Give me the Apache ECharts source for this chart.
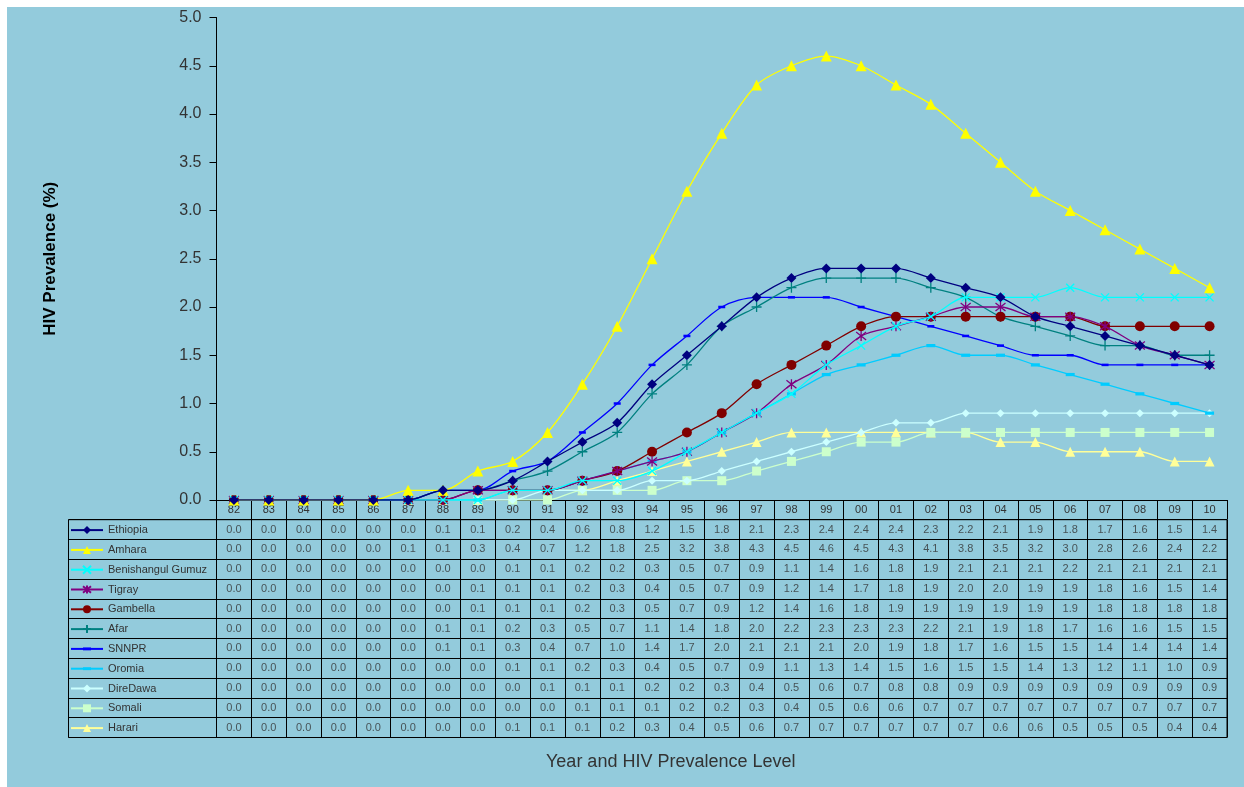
<!DOCTYPE html>
<html>
<head>
<meta charset="utf-8">
<title>HIV Prevalence by Region</title>
<script src="https://cdn.jsdelivr.net/npm/echarts@6/dist/echarts.min.js"></script>
<style>
  html, body { margin: 0; padding: 0; background: #ffffff; }
  #bg { position: absolute; left: 7px; top: 7px; width: 1237px; height: 780px; background: #93CBDC; }
  #chart { position: absolute; left: 0; top: 0; width: 1244px; height: 787px; }
</style>
</head>
<body>
<div id="bg"></div>
<div id="chart"></div>
<script>
// Years (1982 - 2010) shown as two-digit labels
const years = ['82','83','84','85','86','87','88','89','90','91','92','93','94','95',
  '96','97','98','99','00','01','02','03','04','05','06','07','08','09','10'];

const regions = ['Ethiopia','Amhara','Benishangul Gumuz','Tigray','Gambella','Afar',
  'SNNPR','Oromia','DireDawa','Somali','Harari'];

// HIV prevalence (%) per region and year
const ethiopia   = [0.0,0.0,0.0,0.0,0.0,0.0,0.1,0.1,0.2,0.4,0.6,0.8,1.2,1.5,1.8,2.1,2.3,2.4,2.4,2.4,2.3,2.2,2.1,1.9,1.8,1.7,1.6,1.5,1.4];
const amhara     = [0.0,0.0,0.0,0.0,0.0,0.1,0.1,0.3,0.4,0.7,1.2,1.8,2.5,3.2,3.8,4.3,4.5,4.6,4.5,4.3,4.1,3.8,3.5,3.2,3.0,2.8,2.6,2.4,2.2];
const benishangul= [0.0,0.0,0.0,0.0,0.0,0.0,0.0,0.0,0.1,0.1,0.2,0.2,0.3,0.5,0.7,0.9,1.1,1.4,1.6,1.8,1.9,2.1,2.1,2.1,2.2,2.1,2.1,2.1,2.1];
const tigray     = [0.0,0.0,0.0,0.0,0.0,0.0,0.0,0.1,0.1,0.1,0.2,0.3,0.4,0.5,0.7,0.9,1.2,1.4,1.7,1.8,1.9,2.0,2.0,1.9,1.9,1.8,1.6,1.5,1.4];
const gambella   = [0.0,0.0,0.0,0.0,0.0,0.0,0.0,0.1,0.1,0.1,0.2,0.3,0.5,0.7,0.9,1.2,1.4,1.6,1.8,1.9,1.9,1.9,1.9,1.9,1.9,1.8,1.8,1.8,1.8];
const afar       = [0.0,0.0,0.0,0.0,0.0,0.0,0.1,0.1,0.2,0.3,0.5,0.7,1.1,1.4,1.8,2.0,2.2,2.3,2.3,2.3,2.2,2.1,1.9,1.8,1.7,1.6,1.6,1.5,1.5];
const snnpr      = [0.0,0.0,0.0,0.0,0.0,0.0,0.1,0.1,0.3,0.4,0.7,1.0,1.4,1.7,2.0,2.1,2.1,2.1,2.0,1.9,1.8,1.7,1.6,1.5,1.5,1.4,1.4,1.4,1.4];
const oromia     = [0.0,0.0,0.0,0.0,0.0,0.0,0.0,0.0,0.1,0.1,0.2,0.3,0.4,0.5,0.7,0.9,1.1,1.3,1.4,1.5,1.6,1.5,1.5,1.4,1.3,1.2,1.1,1.0,0.9];
const direDawa   = [0.0,0.0,0.0,0.0,0.0,0.0,0.0,0.0,0.0,0.1,0.1,0.1,0.2,0.2,0.3,0.4,0.5,0.6,0.7,0.8,0.8,0.9,0.9,0.9,0.9,0.9,0.9,0.9,0.9];
const somali     = [0.0,0.0,0.0,0.0,0.0,0.0,0.0,0.0,0.0,0.0,0.1,0.1,0.1,0.2,0.2,0.3,0.4,0.5,0.6,0.6,0.7,0.7,0.7,0.7,0.7,0.7,0.7,0.7,0.7];
const harari     = [0.0,0.0,0.0,0.0,0.0,0.0,0.0,0.0,0.1,0.1,0.1,0.2,0.3,0.4,0.5,0.6,0.7,0.7,0.7,0.7,0.7,0.7,0.6,0.6,0.5,0.5,0.5,0.4,0.4];

const yTicks = { min: 0, max: 5, interval: 0.5 };

const seriesValues = [ethiopia, amhara, benishangul, tigray, gambella, afar, snnpr, oromia, direDawa, somali, harari];

// Marker shapes (Excel-style)
const X_PATH = 'path://M0 0L10 10M10 0L0 10';
const STAR_PATH = 'path://M1 1L9 9M9 1L1 9M5 0L5 10';
const PLUS_PATH = 'path://M5 0L5 10M0 5L10 5';
// short horizontal dash inside a square bounding box
const DASH_PATH = 'path://M0 0M0 3.2L10 3.2L10 6.8L0 6.8ZM10 10';

const styles = [
  { color: '#000080', symbol: 'diamond',  size: 10 },
  { color: '#FFFF00', symbol: 'triangle', size: 11 },
  { color: '#00FFFF', symbol: X_PATH,     size: 8, stroke: true },
  { color: '#800080', symbol: STAR_PATH,  size: 10, stroke: true },
  { color: '#800000', symbol: 'circle',   size: 10 },
  { color: '#008080', symbol: PLUS_PATH,  size: 10, stroke: true },
  { color: '#0000FF', symbol: DASH_PATH,  size: 7 },
  { color: '#00CCFF', symbol: DASH_PATH,  size: 9 },
  { color: '#CCFFFF', symbol: 'diamond',  size: 8 },
  { color: '#CCFFCC', symbol: 'rect',     size: 9 },
  { color: '#FFFF99', symbol: 'triangle', size: 10 }
];

const lineSeries = regions.map((name, i) => ({
  name: name,
  type: 'line',
  xAxisIndex: 0,
  yAxisIndex: 0,
  data: seriesValues[i],
  smooth: 0.3,
  symbol: styles[i].symbol,
  symbolSize: styles[i].size,
  showAllSymbol: true,
  lineStyle: { color: styles[i].color, width: 1.3 },
  itemStyle: {
    color: styles[i].color,
    borderColor: styles[i].color,
    borderWidth: styles[i].stroke ? 1.3 : 0
  },
  emphasis: { disabled: true },
  z: 3 + (regions.length - i) * 0.01
}));

// Data table cells: [yearIndex, regionIndex, value]
const tableCells = [];
regions.forEach((name, r) => {
  seriesValues[r].forEach((v, c) => tableCells.push([c, r, v]));
});

const tableSeries = {
  name: 'table',
  type: 'scatter',
  xAxisIndex: 1,
  yAxisIndex: 1,
  symbolSize: 0,
  silent: true,
  data: tableCells,
  label: {
    show: true,
    position: 'inside',
    fontFamily: 'Liberation Sans, Arial, sans-serif',
    fontSize: 11,
    color: '#333333',
    formatter: p => p.value[2].toFixed(1)
  }
};

const GRID_LEFT = 216.5, GRID_RIGHT = 17;
const TABLE_TOP = 519.7, ROW_H = 19.8;
const LEGEND_ITEM_H = 10;     // icon height
const LEGEND_BOX_H = 11;      // laid-out height of one legend entry

const chart = echarts.init(document.getElementById('chart'), null, { renderer: 'canvas' });
chart.setOption({
  backgroundColor: 'transparent',
  animation: false,
  textStyle: { fontFamily: 'Liberation Sans, Arial, sans-serif' },
  title: {
    text: 'Year and HIV Prevalence Level',
    left: 541,
    top: 748,
    textStyle: { fontSize: 18, fontWeight: 'normal', color: '#333333' }
  },
  legend: {
    orient: 'vertical',
    left: 70,
    top: TABLE_TOP + (ROW_H - LEGEND_BOX_H) / 2 + 0.5,
    padding: 0,
    data: regions,
    itemWidth: 32,
    itemHeight: LEGEND_ITEM_H,
    itemGap: ROW_H - LEGEND_BOX_H,
    selectedMode: false,
    textStyle: { fontSize: 11, color: '#333333', lineHeight: LEGEND_ITEM_H }
  },
  grid: [
    { left: GRID_LEFT, right: GRID_RIGHT, top: 17.5, height: 482.5 },
    { left: GRID_LEFT, right: GRID_RIGHT, top: TABLE_TOP, height: ROW_H * 11,
      show: true, borderColor: '#000000', borderWidth: 1, backgroundColor: 'transparent' },
    { left: 68.5, width: GRID_LEFT - 68.5, top: TABLE_TOP, height: ROW_H * 11,
      show: true, borderColor: '#000000', borderWidth: 1, backgroundColor: 'transparent' }
  ],
  xAxis: [
    {
      gridIndex: 0,
      type: 'category',
      data: years,
      boundaryGap: true,
      axisLine: { show: true, lineStyle: { color: '#000000', width: 1 } },
      axisTick: { show: true, interval: 0, length: 19.5, lineStyle: { color: '#000000', width: 1 } },
      axisLabel: { interval: 0, fontSize: 11, color: '#333333', margin: 4 },
      splitLine: { show: false }
    },
    {
      gridIndex: 1,
      type: 'category',
      data: years,
      boundaryGap: true,
      axisLine: { show: false },
      axisTick: { show: false },
      axisLabel: { show: false },
      splitLine: { show: true, interval: 0, lineStyle: { color: '#000000', width: 1 } }
    },
    { gridIndex: 2, type: 'value', show: false }
  ],
  yAxis: [
    {
      gridIndex: 0,
      type: 'value',
      min: yTicks.min,
      max: yTicks.max,
      interval: yTicks.interval,
      name: 'HIV Prevalence (%)',
      nameLocation: 'middle',
      nameGap: 158,
      nameTextStyle: { fontSize: 17, fontWeight: 'bold', color: '#000000' },
      axisLine: { show: true, lineStyle: { color: '#000000', width: 1 } },
      axisTick: { show: true, length: 7, lineStyle: { color: '#000000' } },
      axisLabel: { fontSize: 16, color: '#333333', margin: 15, formatter: v => v.toFixed(1) },
      splitLine: { show: false }
    },
    {
      gridIndex: 1,
      type: 'category',
      data: regions,
      inverse: true,
      axisLine: { show: false },
      axisTick: { show: false },
      axisLabel: { show: false },
      splitLine: { show: true, interval: 0, lineStyle: { color: '#000000', width: 1 } }
    },
    {
      gridIndex: 2,
      type: 'category',
      data: regions,
      inverse: true,
      axisLine: { show: false },
      axisTick: { show: false },
      axisLabel: { show: false },
      splitLine: { show: true, interval: 0, lineStyle: { color: '#000000', width: 1 } }
    }
  ],
  series: lineSeries.concat([tableSeries])
});
</script>
</body>
</html>
